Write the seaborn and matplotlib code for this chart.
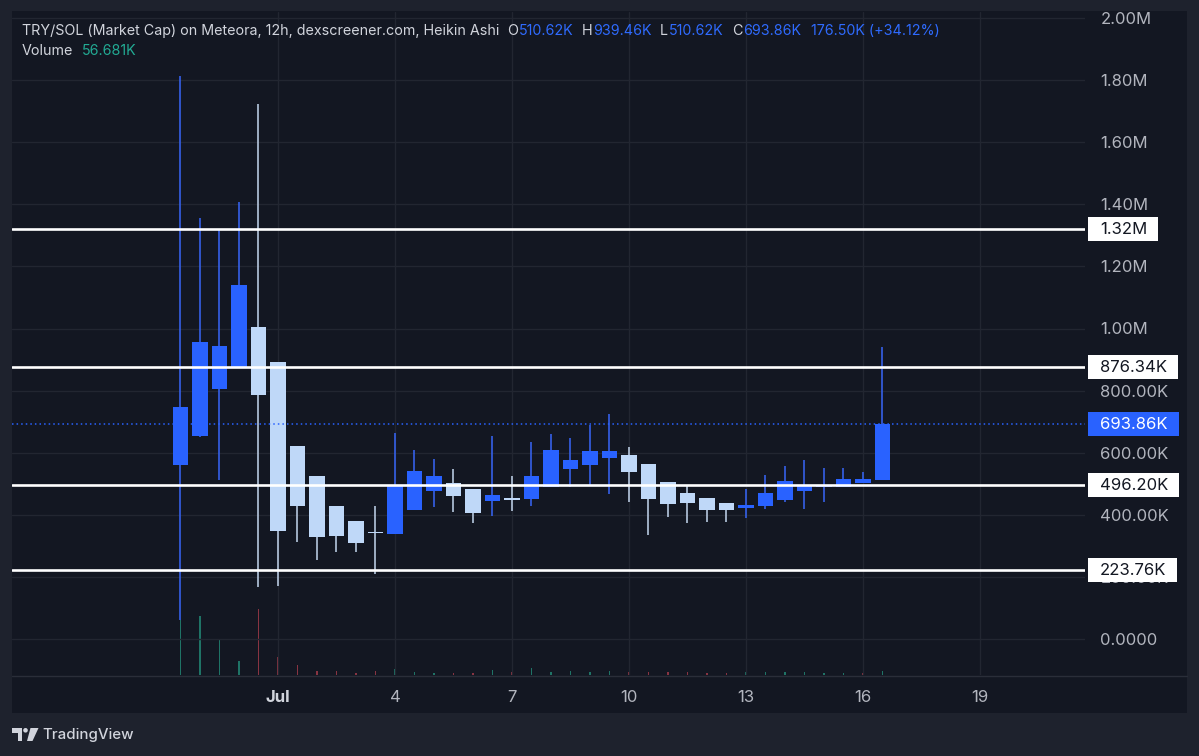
import matplotlib
matplotlib.use("Agg")
import matplotlib.pyplot as plt
import matplotlib.dates as mdates
from matplotlib.patches import Rectangle, Polygon, Ellipse
from matplotlib.lines import Line2D
from matplotlib.ticker import FuncFormatter
import numpy as np
import pandas as pd
import seaborn as sns

# ---------------- data (values in thousands) ----------------
times = [
    "2024-06-28 12:00", "2024-06-29 00:00", "2024-06-29 12:00", "2024-06-30 00:00",
    "2024-06-30 12:00", "2024-07-01 00:00", "2024-07-01 12:00", "2024-07-02 00:00",
    "2024-07-02 12:00", "2024-07-03 00:00", "2024-07-03 12:00", "2024-07-04 00:00",
    "2024-07-04 12:00", "2024-07-05 00:00", "2024-07-05 12:00", "2024-07-06 00:00",
    "2024-07-06 12:00", "2024-07-07 00:00", "2024-07-07 12:00", "2024-07-08 00:00",
    "2024-07-08 12:00", "2024-07-09 00:00", "2024-07-09 12:00", "2024-07-10 00:00",
    "2024-07-10 12:00", "2024-07-11 00:00", "2024-07-11 12:00", "2024-07-12 00:00",
    "2024-07-12 12:00", "2024-07-13 00:00", "2024-07-13 12:00", "2024-07-14 00:00",
    "2024-07-14 12:00", "2024-07-15 00:00", "2024-07-15 12:00", "2024-07-16 00:00",
    "2024-07-16 12:00",
]
opens = [560, 655, 805, 874, 1006, 893, 620, 524, 427, 379, 345, 339, 416, 478, 502,
         484, 445, 455, 451, 488, 547, 561, 583, 594, 565, 507, 470, 455, 438, 423,
         429, 448, 478, 490, 489, 502, 510.62]
highs = [1812, 1355, 1316, 1406, 1723, 893, 620, 524, 427, 379, 427, 665, 610, 580, 548,
         484, 653, 524, 633, 660, 647, 690, 725, 617, 565, 507, 495, 455, 438, 483,
         529, 556, 575, 551, 551, 539, 939.46]
lows = [60, 650, 513, 874, 166, 171, 313, 255, 279, 279, 209, 339, 416, 425, 409,
        372, 395, 413, 429, 488, 489, 497, 467, 441, 335, 393, 372, 376, 378, 391,
        418, 441, 418, 440, 489, 502, 510.62]
closes = [748, 957, 943, 1139, 785, 349, 429, 329, 332, 309, 340, 493, 542, 526, 462,
          406, 464, 447, 526, 610, 577, 604, 604, 537, 451, 434, 437, 416, 414, 433,
          470, 510, 497, 496, 515, 516, 693.86]
volumes = [780, 836, 496, 198, 935, 255, 142, 50, 61, 28, 61, 85, 38, 33, 33,
           24, 71, 38, 103, 43, 57, 38, 57, 47, 47, 38, 43, 28, 33, 38,
           43, 38, 38, 33, 33, 28, 56.681]
volume_dir = ["up", "up", "up", "up", "down", "down", "down", "down", "down", "down",
              "down", "up", "up", "up", "down", "down", "up", "down", "up", "up",
              "up", "up", "up", "down", "down", "down", "down", "down", "down", "up",
              "up", "up", "up", "up", "up", "down", "up"]
price_ticks = [0, 200, 400, 600, 800, 1000, 1200, 1400, 1600, 1800, 2000]
date_ticks = ["2024-07-01", "2024-07-04", "2024-07-07", "2024-07-10",
              "2024-07-13", "2024-07-16", "2024-07-19"]
date_tick_labels = ["Jul", "4", "7", "10", "13", "16", "19"]
level_lines = [1320.0, 876.34, 496.20, 223.76]
level_labels = ["1.32M", "876.34K", "496.20K", "223.76K"]
last_price = 693.86
last_price_label = "693.86K"
title_text = "TRY/SOL (Market Cap) on Meteora, 12h, dexscreener.com, Heikin Ashi"
ohlc_header = [("O", "510.62K"), ("H", "939.46K"), ("L", "510.62K"), ("C", "693.86K")]
change_text = "176.50K (+34.12%)"
volume_name = "Volume"
volume_value = "56.681K"

# ---------------- style ----------------
sns.set_theme(style="dark")
plt.rcParams["font.family"] = ["Inter", "DejaVu Sans"]

W, H = 1199, 756
BG = "#131722"
FRAME = "#1e222d"
GRID = "#222631"
TXT = "#d1d4dc"
AXT = "#b2b5be"
UP = "#2962ff"
DOWN = "#bfd8f8"
UPW = "#3560e8"
DOWNW = "#b6c8df"
VUP = "#1f7366"
VDN = "#883442"
HBLUE = "#2f6bff"
TEAL = "#22ab94"

fig = plt.figure(figsize=(W / 100, H / 100), dpi=100, facecolor=FRAME)


def fx(p):
    return p / W


def fy(p):
    return 1 - p / H


fig.add_artist(Rectangle((fx(12), fy(713)), fx(1187) - fx(12), fy(11) - fy(713),
                         transform=fig.transFigure, fc=BG, ec="none", zorder=-5))

ax = fig.add_axes([fx(12), fy(675), (1085 - 12) / W, (675 - 12) / H])
axv = ax.twinx()
ax.set_zorder(2)
axv.set_zorder(1)
ax.patch.set_visible(False)
axv.set_facecolor(BG)

tnum = mdates.date2num(pd.to_datetime(times))
jul1 = mdates.date2num(pd.Timestamp("2024-07-01"))

# ---------------- volume (seaborn) ----------------
df_vol = pd.DataFrame({"t": tnum, "volume": volumes, "dir": volume_dir})
sns.barplot(data=df_vol, x="t", y="volume", hue="dir",
            palette={"up": VUP, "down": VDN}, native_scale=True, width=0.08,
            dodge=False, errorbar=None, legend=False, saturation=1,
            linewidth=0, ax=axv)
axv.set_ylim(0, 9395)
axv.set_yticks([])
axv.set_xlabel("")
axv.set_ylabel("")
for s in axv.spines.values():
    s.set_visible(False)

# ---------------- candles ----------------
o = np.array(opens, float)
c = np.array(closes, float)
hi = np.array(highs, float)
lo = np.array(lows, float)
is_up = c >= o
body_bottom = np.minimum(o, c)
body_h = np.maximum(np.abs(c - o), 3.5)
ax.vlines(tnum, lo, hi, colors=np.where(is_up, UPW, DOWNW), lw=1.2, zorder=3)
ax.bar(tnum, body_h, bottom=body_bottom, width=0.41,
       color=np.where(is_up, UP, DOWN), linewidth=0, zorder=4)

for lv in level_lines:
    ax.axhline(lv, color="white", lw=1.9, zorder=6)
ax.axhline(last_price, color=UP, lw=1.1, ls=(0, (1, 2)), zorder=5)

# ---------------- axes ----------------
ax.set_xlim(jul1 - 266 / 39.0, jul1 + 807 / 39.0)
ax.set_ylim(-36 / 0.3105, 627 / 0.3105)
axv.set_xlim(ax.get_xlim())

ax.yaxis.tick_right()
ax.set_yticks(price_ticks)


def fmt(v, _):
    if v == 0:
        return "0.0000"
    if v >= 1000:
        return f"{v / 1000:.2f}M"
    return f"{v:.2f}K"


ax.yaxis.set_major_formatter(FuncFormatter(fmt))
ax.set_xticks(mdates.date2num(pd.to_datetime(date_ticks)), date_tick_labels)
ax.tick_params(axis="both", length=0, labelsize=12, colors=AXT)
ax.tick_params(axis="y", pad=11)
ax.tick_params(axis="x", pad=11)
lab0 = ax.get_xticklabels()[0]
lab0.set_fontweight("bold")
lab0.set_color(TXT)
ax.grid(True, color=GRID, lw=1)
ax.set_axisbelow(True)
for s in ax.spines.values():
    s.set_visible(False)
ax.set_xlabel("")
ax.set_ylabel("")

fig.add_artist(Line2D([fx(12), fx(1187)], [fy(675.5), fy(675.5)], color="#2a2e39",
                      lw=1, transform=fig.transFigure))

renderer = fig.canvas.get_renderer()


def price_box(val, text, fc, tc):
    ydisp = ax.transData.transform((0, val))[1]
    t = fig.text(fx(1100), (ydisp - 0.5) / H, text, color=tc, fontsize=12,
                 va="center", ha="left", zorder=11)
    bb = t.get_window_extent(renderer)
    x0, x1 = 1088, bb.x1 + 11
    fig.add_artist(Rectangle((x0 / W, (ydisp - 12) / H), (x1 - x0) / W, 24 / H,
                             transform=fig.transFigure, fc=fc, ec="none", zorder=10))


for lv, lab in zip(level_lines, level_labels):
    price_box(lv, lab, "white", "#131722")
price_box(last_price, last_price_label, UP, "white")

# ---------------- header ----------------


def segments(x, y, parts, size=10.3):
    for text, color, gap in parts:
        t = fig.text(fx(x), fy(y), text, color=color, fontsize=size, va="center",
                     ha="left", zorder=12)
        bb = t.get_window_extent(renderer)
        x = bb.x1 + gap


line1 = [(title_text, TXT, 8)]
for k, v in ohlc_header:
    line1.append((k, TXT, 1))
    line1.append((v, HBLUE, 8))
line1[-1] = (line1[-1][0], HBLUE, 10)
line1.append((change_text, HBLUE, 0))
segments(22, 31, line1)
segments(22, 51, [(volume_name, TXT, 9), (volume_value, TEAL, 0)])

# ---------------- footer logo ----------------
logo = "#d1d4dc"
fig.add_artist(Polygon([(fx(12), fy(728)), (fx(22), fy(728)), (fx(22), fy(741)),
                        (fx(17.5), fy(741)), (fx(17.5), fy(732.5)), (fx(12), fy(732.5))],
                       closed=True, transform=fig.transFigure, fc=logo, ec="none"))
fig.add_artist(Ellipse((fx(25.5), fy(730.3)), 4.6 / W, 4.6 / H,
                       transform=fig.transFigure, fc=logo, ec="none"))
fig.add_artist(Polygon([(fx(30.5), fy(728)), (fx(38.5), fy(728)), (fx(32.5), fy(741)),
                        (fx(27), fy(741))],
                       closed=True, transform=fig.transFigure, fc=logo, ec="none"))
fig.text(fx(42), fy(735), "TradingView", color=logo, fontsize=10.8,
         fontweight="medium", va="center", ha="left")

fig.savefig("out.png", dpi=100, facecolor=FRAME)
